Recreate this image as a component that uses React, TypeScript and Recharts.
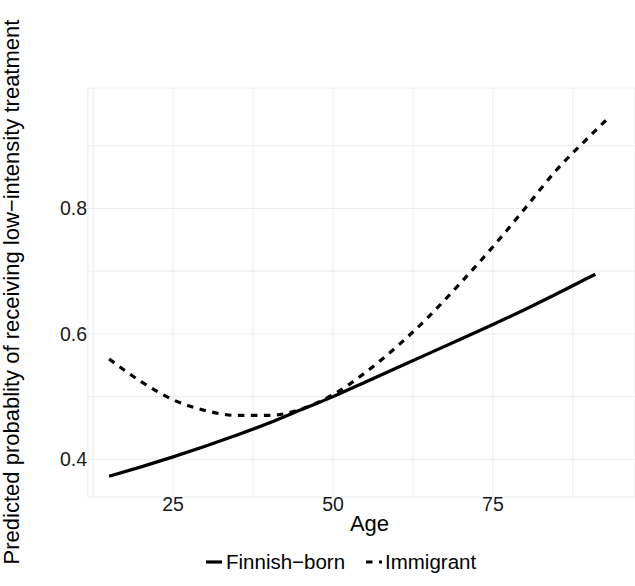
import React from 'react';
import { LineChart, Line, XAxis, YAxis, CartesianGrid } from 'recharts';

const FONT = '"Liberation Sans", Arial, Helvetica, sans-serif';

const finnishAges = [15, 20, 25, 30, 35, 40, 45, 50, 55, 60, 65, 70, 75, 80, 85, 90, 91];
const finnishProb = [0.373, 0.388, 0.404, 0.421, 0.439, 0.458, 0.479, 0.5, 0.523, 0.546, 0.569, 0.592, 0.615, 0.639, 0.664, 0.69, 0.695];

const immigrantAges = [15, 20, 25, 30, 35, 40, 45, 50, 55, 60, 65, 70, 75, 80, 85, 90, 93];
const immigrantProb = [0.56, 0.524, 0.495, 0.478, 0.47, 0.47, 0.48, 0.503, 0.538, 0.58, 0.628, 0.682, 0.739, 0.8, 0.862, 0.914, 0.944];

const xTicks = [12.5, 25, 37.5, 50, 62.5, 75, 87.5];
const xLabels = [25, 50, 75];
const yTicks = [0.4, 0.5, 0.6, 0.7, 0.8, 0.9];
const yLabels = [0.4, 0.6, 0.8];

const finnishData = finnishAges.map((age, i) => ({ age, p: finnishProb[i] }));
const immigrantData = immigrantAges.map((age, i) => ({ age, p: immigrantProb[i] }));

const tickStyle = { fill: '#1a1a1a', fontSize: 19.5, fontFamily: FONT };

export default function App() {
  return (
    <div style={{ position: 'absolute', left: 0, top: 0, width: 635, height: 586, background: '#fff' }}>
      <LineChart width={635} height={586} margin={{ top: 88, right: 0, bottom: 59, left: 0 }}>
        <CartesianGrid stroke="#ebebeb" strokeWidth={1} />
        <XAxis
          type="number"
          dataKey="age"
          domain={[11.7, 97.2]}
          allowDataOverflow
          ticks={xTicks}
          interval={0}
          tickFormatter={(v: number) => (xLabels.includes(v) ? String(v) : '')}
          axisLine={false}
          tickLine={false}
          tickSize={0}
          tickMargin={0}
          height={30}
          tick={tickStyle}
        />
        <YAxis
          type="number"
          domain={[0.34, 0.992]}
          allowDataOverflow
          ticks={yTicks}
          interval={0}
          tickFormatter={(v: number) => (yLabels.includes(v) ? v.toFixed(1) : '')}
          axisLine={false}
          tickLine={false}
          tickSize={0}
          tickMargin={1}
          width={88}
          tick={tickStyle}
        />
        <Line
          data={finnishData}
          dataKey="p"
          type="monotone"
          stroke="#000"
          strokeWidth={3.2}
          dot={false}
          activeDot={false}
          isAnimationActive={false}
        />
        <Line
          data={immigrantData}
          dataKey="p"
          type="monotone"
          stroke="#000"
          strokeWidth={3.2}
          strokeDasharray="6.5 6.5"
          dot={false}
          activeDot={false}
          isAnimationActive={false}
        />
      </LineChart>
      <svg
        width={635}
        height={586}
        style={{ position: 'absolute', left: 0, top: 0, pointerEvents: 'none' }}
      >
        <text
          x={19}
          y={292}
          transform="rotate(-90, 19, 292)"
          textAnchor="middle"
          fontSize={22}
          fontFamily={FONT}
          fill="#000"
        >
          Predicted probablity of receiving low−intensity treatment
        </text>
        <text x={369.5} y={530.5} textAnchor="middle" fontSize={22} fontFamily={FONT} fill="#000">
          Age
        </text>
        <line x1={206} y1={562} x2={222} y2={562} stroke="#000" strokeWidth={3.2} />
        <text x={226} y={569} fontSize={20.5} fontFamily={FONT} fill="#000">
          Finnish−born
        </text>
        <line x1={366} y1={562} x2={382} y2={562} stroke="#000" strokeWidth={3.2} strokeDasharray="6.5 6.5" />
        <text x={385} y={569} fontSize={20.5} fontFamily={FONT} fill="#000">
          Immigrant
        </text>
      </svg>
    </div>
  );
}
